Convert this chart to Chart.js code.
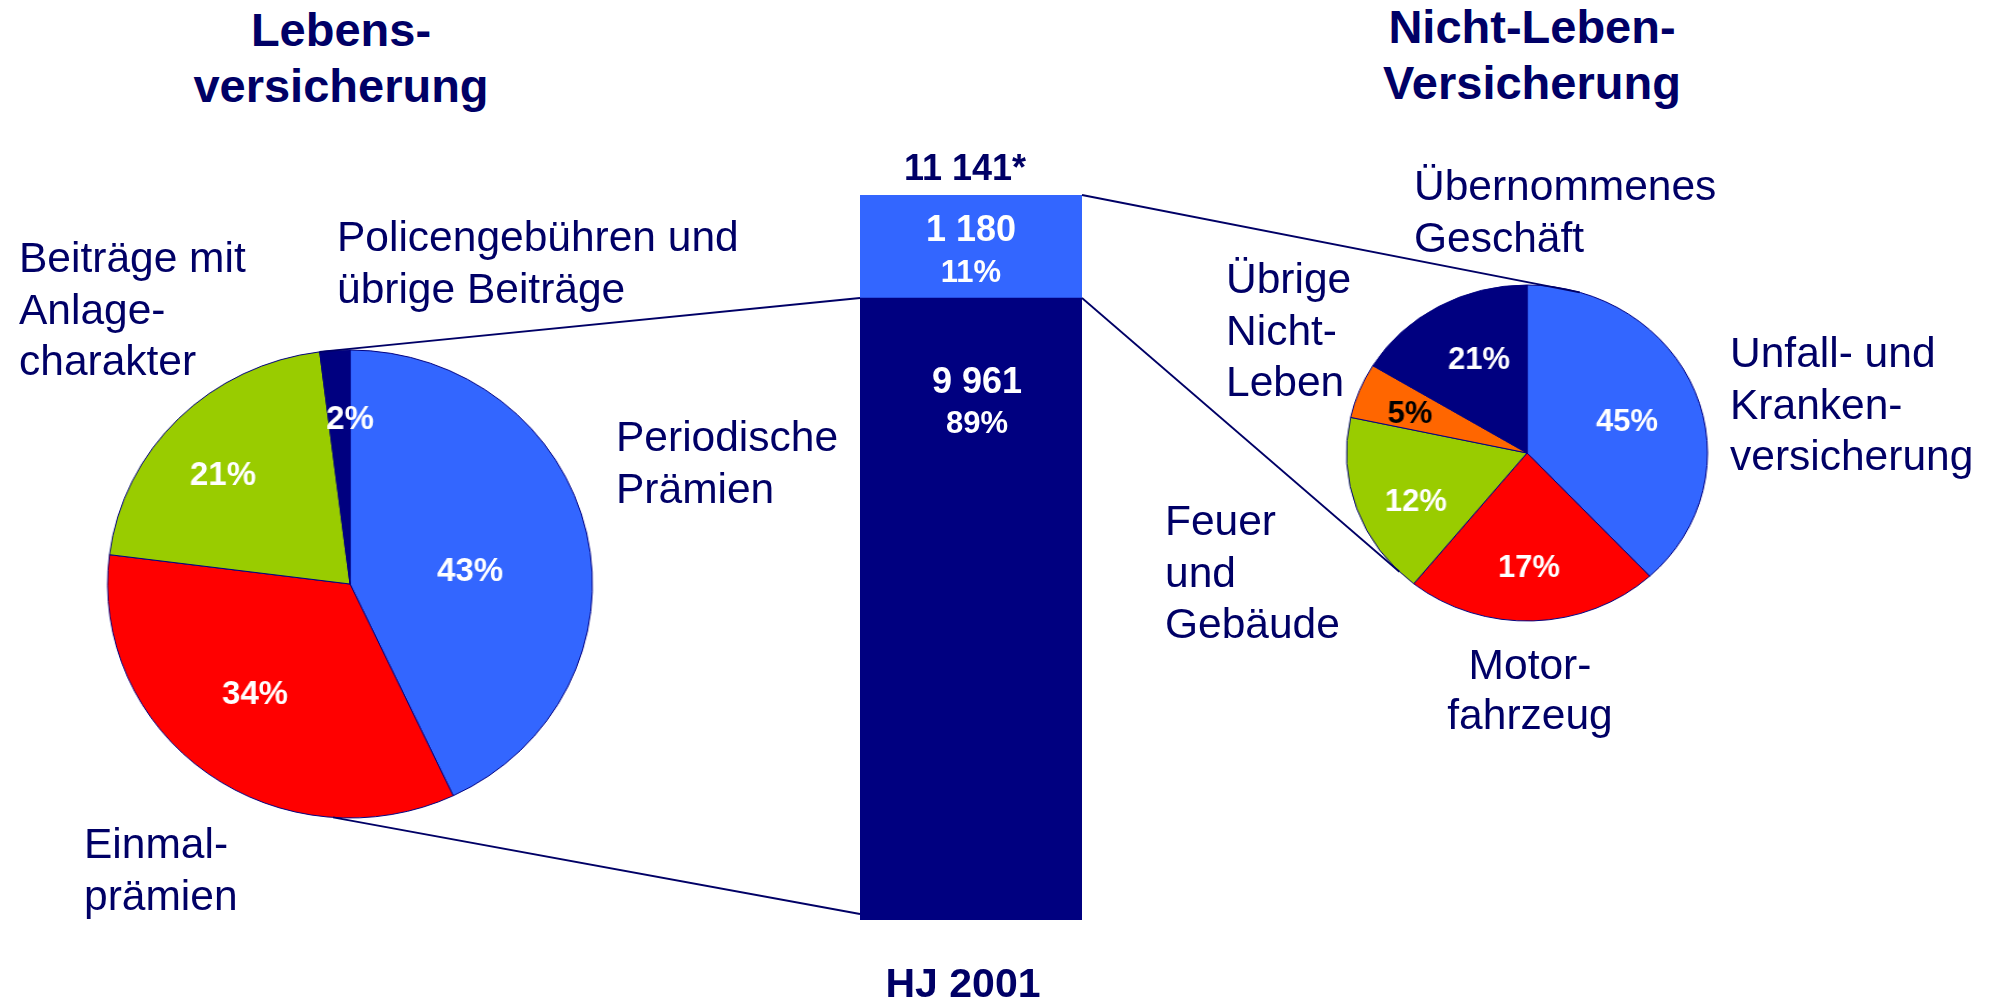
<!DOCTYPE html>
<html>
<head>
<meta charset="utf-8">
<script src="https://cdn.jsdelivr.net/npm/chart.js@4.4.0/dist/chart.umd.min.js"></script>
<style>
  html, body { margin: 0; padding: 0; background: #fff; }
  #page { position: relative; width: 1992px; height: 1002px; overflow: hidden;
          font-family: "Liberation Sans", Arial, sans-serif; color: #000066; }
  .box { position: absolute; }
  .box canvas { display: block; }
  .lbl { position: absolute; font-size: 42.5px; line-height: 51.5px; white-space: nowrap; }
  .ttl { position: absolute; font-size: 47px; font-weight: bold; line-height: 56px;
         text-align: center; white-space: nowrap; transform: translateX(-50%); }
  #links { position: absolute; left: 0; top: 0; pointer-events: none; }
</style>
</head>
<body>
<div id="page">
  <div class="ttl" style="left:341px; top:2px;">Lebens-<br>versicherung</div>
  <div class="ttl" style="left:1532px; top:-1px;">Nicht-Leben-<br>Versicherung</div>

  <div class="box" id="lebenBox"><canvas id="lebenPie" width="500" height="500"></canvas></div>
  <div class="box" id="barBox"><canvas id="praemienBar" width="422" height="882"></canvas></div>
  <div class="box" id="nichtLebenBox"><canvas id="nichtLebenPie" width="360" height="360"></canvas></div>
  <canvas id="links" width="1992" height="1002"></canvas>

  <div class="lbl" style="left:19px; top:232px;">Beiträge mit<br>Anlage-<br>charakter</div>
  <div class="lbl" style="left:337px; top:211px;">Policengebühren und<br>übrige Beiträge</div>
  <div class="lbl" style="left:616px; top:411px;">Periodische<br>Prämien</div>
  <div class="lbl" style="left:84px; top:818px;">Einmal-<br>prämien</div>

  <div class="lbl" style="left:1414px; top:160px;">Übernommenes<br>Geschäft</div>
  <div class="lbl" style="left:1226px; top:253px;">Übrige<br>Nicht-<br>Leben</div>
  <div class="lbl" style="left:1730px; top:327px;">Unfall- und<br>Kranken-<br>versicherung</div>
  <div class="lbl" style="left:1165px; top:495px;">Feuer<br>und<br>Gebäude</div>
  <div class="lbl" style="left:1530px; top:640px; line-height:50px; text-align:center; transform:translateX(-50%);">Motor-<br>fahrzeug</div>
</div>

<script>
// Lebensversicherung (Anteile in %), im Uhrzeigersinn ab 12 Uhr
const lebenLabels = ['Periodische Prämien', 'Einmalprämien', 'Beiträge mit Anlagecharakter', 'Policengebühren und übrige Beiträge'];
const lebenShares = [43, 34, 21, 2];

// Nicht-Leben: gedruckte Prozente und die Sektorgrössen, wie sie im Bild gezeichnet sind
const nichtLebenLabels = ['Unfall- und Krankenversicherung', 'Motorfahrzeug', 'Feuer und Gebäude', 'Übrige Nicht-Leben', 'Übernommenes Geschäft'];
const nichtLebenShares = [45, 17, 12, 5, 21];
const nichtLebenSlices = [38.1, 22.7, 17.6, 5.3, 16.3];

// Prämien HJ 2001 (Mio.)
const barCategories = ['HJ 2001'];
const lebenPremium = [9961];
const nichtLebenPremium = [1180];

const NAVY = '#000080';
const NAVY_TEXT = '#000066';
const FONT = '"Liberation Sans", Arial, sans-serif';

const lebenColors = ['#3366FF', '#FF0000', '#99CC00', '#000080'];
const nichtLebenColors = ['#3366FF', '#FF0000', '#99CC00', '#FF6600', '#000080'];

// where things sit on the page
const lebenBox = { left: 100, top: 334, size: 500, radius: 234, stretch: 1.036 };
const nichtLebenBox = { left: 1347, top: 273, size: 360, radius: 168, stretch: 1.0744 };
const barBox = { left: 760, top: 120, width: 422, height: 882 };

function place(id, box) {
  const el = document.getElementById(id);
  el.style.left = box.left + 'px';
  el.style.top = box.top + 'px';
  if (box.stretch) {
    el.style.transformOrigin = '50% 50%';
    el.style.transform = 'scaleX(' + box.stretch + ')';
  }
}
place('lebenBox', lebenBox);
place('nichtLebenBox', nichtLebenBox);
place('barBox', barBox);

function fmtNumber(n) {
  return String(n).replace(/\B(?=(\d{3})+(?!\d))/g, ' ');
}

// percentage labels inside the slices
const sliceText = {
  id: 'sliceText',
  afterDatasetsDraw(chart, args, opts) {
    const ctx = chart.ctx;
    const arc = chart.getDatasetMeta(0).data[0];
    const cx = arc.x, cy = arc.y, r = arc.outerRadius;
    ctx.save();
    ctx.font = 'bold ' + opts.size + 'px ' + FONT;
    ctx.textAlign = 'center';
    ctx.textBaseline = 'alphabetic';
    opts.texts.forEach((t, i) => {
      const x = cx + opts.spots[i][0] * r / opts.stretch;
      const y = cy + opts.spots[i][1] * r + opts.size * 0.358;
      ctx.save();
      ctx.translate(x, y);
      ctx.scale(1 / opts.stretch, 1);
      ctx.fillStyle = opts.colors[i];
      ctx.fillText(t, 0, 0);
      ctx.restore();
    });
    ctx.restore();
  }
};

function makePie(canvasId, labels, values, colors, box, textOpts) {
  return new Chart(document.getElementById(canvasId), {
    type: 'pie',
    data: {
      labels: labels,
      datasets: [{
        data: values,
        backgroundColor: colors,
        borderColor: NAVY,
        borderWidth: 1,
        hoverOffset: 0
      }]
    },
    options: {
      responsive: false,
      animation: false,
      radius: box.radius,
      layout: { padding: 0 },
      events: [],
      plugins: {
        legend: { display: false },
        tooltip: { enabled: false },
        sliceText: Object.assign({ stretch: box.stretch }, textOpts)
      }
    },
    plugins: [sliceText]
  });
}

const lebenChart = makePie('lebenPie', lebenLabels, lebenShares, lebenColors, lebenBox, {
  texts: lebenShares.map(v => v + '%'),
  colors: ['#fff', '#fff', '#fff', '#fff'],
  size: 33,
  spots: [[0.513, -0.064], [-0.406, 0.462], [-0.543, -0.474], [0, -0.714]]
});

const nichtLebenChart = makePie('nichtLebenPie', nichtLebenLabels, nichtLebenSlices, nichtLebenColors, nichtLebenBox, {
  texts: nichtLebenShares.map(v => v + '%'),
  colors: ['#fff', '#fff', '#fff', '#000', '#fff'],
  size: 31,
  spots: [[0.595, -0.196], [0.012, 0.673], [-0.661, 0.28], [-0.696, -0.244], [-0.286, -0.565]]
});

// numbers in and around the stacked bar
const barText = {
  id: 'barText',
  afterDatasetsDraw(chart) {
    const ctx = chart.ctx;
    const low = chart.getDatasetMeta(0).data[0];
    const high = chart.getDatasetMeta(1).data[0];
    const total = lebenPremium[0] + nichtLebenPremium[0];
    const x = low.x;
    ctx.save();
    ctx.textAlign = 'center';
    ctx.textBaseline = 'alphabetic';

    ctx.fillStyle = '#fff';
    ctx.font = 'bold 36px ' + FONT;
    ctx.fillText(fmtNumber(nichtLebenPremium[0]), x, high.y + 46);
    ctx.fillText(fmtNumber(lebenPremium[0]), x + 6, low.y + 95);
    ctx.font = 'bold 31px ' + FONT;
    ctx.fillText(Math.round(nichtLebenPremium[0] / total * 100) + '%', x, high.y + 87);
    ctx.fillText(Math.round(lebenPremium[0] / total * 100) + '%', x + 6, low.y + 135);

    ctx.fillStyle = NAVY_TEXT;
    ctx.font = 'bold 36px ' + FONT;
    ctx.fillText(fmtNumber(total) + '*', x - 6, high.y - 15);
    ctx.font = 'bold 41px ' + FONT;
    ctx.fillText(barCategories[0], x - 8, chart.chartArea.bottom + 77);
    ctx.restore();
  }
};

const barChart = new Chart(document.getElementById('praemienBar'), {
  type: 'bar',
  data: {
    labels: barCategories,
    datasets: [
      { label: 'Leben', data: lebenPremium, backgroundColor: NAVY },
      { label: 'Nicht-Leben', data: nichtLebenPremium, backgroundColor: '#3366FF' }
    ]
  },
  options: {
    responsive: false,
    animation: false,
    events: [],
    layout: { padding: { left: 100, right: 100, top: 75, bottom: 82 } },
    datasets: { bar: { barPercentage: 1, categoryPercentage: 1, borderWidth: 0 } },
    scales: {
      x: { display: false, stacked: true },
      y: { display: false, stacked: true, min: 2835, max: 11141 }
    },
    plugins: { legend: { display: false }, tooltip: { enabled: false } }
  },
  plugins: [barText]
});

// connector lines between the pies and the bar
function piePoint(chart, box, degFromTop) {
  const a = chart.getDatasetMeta(0).data[0];
  const ang = (degFromTop - 90) * Math.PI / 180;
  const x = a.x + a.outerRadius * Math.cos(ang);
  const y = a.y + a.outerRadius * Math.sin(ang);
  return { x: box.left + box.size / 2 + (x - box.size / 2) * box.stretch, y: box.top + y };
}

function drawLinks() {
  const ctx = document.getElementById('links').getContext('2d');
  const low = barChart.getDatasetMeta(0).data[0];
  const high = barChart.getDatasetMeta(1).data[0];
  const area = barChart.chartArea;
  const bl = barBox.left + area.left, br = barBox.left + area.right;
  const navyArc = lebenChart.getDatasetMeta(0).data[3];
  const navyStartDeg = navyArc.startAngle * 180 / Math.PI + 90;

  const lines = [
    [piePoint(lebenChart, lebenBox, navyStartDeg), { x: bl, y: barBox.top + low.y }],
    [piePoint(lebenChart, lebenBox, 184), { x: bl, y: barBox.top + area.bottom - 6 }],
    [{ x: br, y: barBox.top + high.y }, piePoint(nichtLebenChart, nichtLebenBox, 17)],
    [{ x: br, y: barBox.top + low.y }, piePoint(nichtLebenChart, nichtLebenBox, 225)]
  ];
  ctx.strokeStyle = NAVY_TEXT;
  ctx.lineWidth = 1.8;
  lines.forEach(([p, q]) => {
    ctx.beginPath();
    ctx.moveTo(p.x, p.y);
    ctx.lineTo(q.x, q.y);
    ctx.stroke();
  });
}
drawLinks();
</script>
</body>
</html>
